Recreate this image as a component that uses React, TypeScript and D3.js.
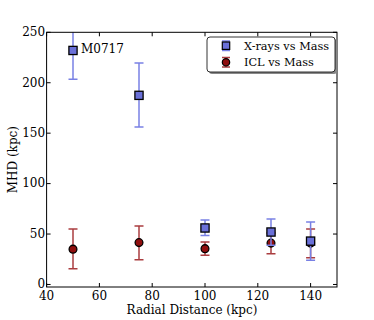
import React from "react";
import * as d3 from "d3";

const radius = [50, 75, 100, 125, 140];
const xrayMHD = [232, 187.5, 56, 52, 43];
const xrayLow = [203.5, 156, 48.5, 39, 24];
const xrayHigh = [260, 219.5, 64, 65, 62];
const iclMHD = [35, 41.5, 35.5, 41, 41];
const iclLow = [15.6, 24.5, 29, 30.5, 26.5];
const iclHigh = [55, 58, 42, 51, 55];
const xTicks = [40, 60, 80, 100, 120, 140];
const yTicks = [0, 50, 100, 150, 200, 250];
const legendLabels = ["X-rays vs Mass", "ICL vs Mass"];

const W = 374, H = 320;
const L = 46.6, R = 337, T = 32.3, B = 287;
const FONT = "DejaVu Serif";

export default function App() {
  const x = d3.scaleLinear().domain([40, 150]).range([L, R]);
  const y = d3.scaleLinear().domain([-2.5, 250]).range([B, T]);
  const blueBar = "#7880e4";
  const blueFill = "#6a70d8";
  const redBar = "#aa3c3f";
  const redFill = "#900e0e";
  const cap = 4.5;
  const sq = 8.2;
  const cr = 3.9;
  return (
    <svg width={W} height={H} style={{ position: "absolute", left: 0, top: 0 }}>
      <rect width={W} height={H} fill="#fff" />
      <defs>
        <clipPath id="plot">
          <rect x={L} y={T} width={R - L} height={B - T} />
        </clipPath>
      </defs>
      <g clipPath="url(#plot)">
        {radius.map((r, i) => (
          <g key={"r" + i}>
            <line x1={x(r)} x2={x(r)} y1={y(iclLow[i])} y2={y(iclHigh[i])} stroke={redBar} strokeWidth={1.5} />
            <line x1={x(r) - cap} x2={x(r) + cap} y1={y(iclLow[i])} y2={y(iclLow[i])} stroke={redBar} strokeWidth={1.5} />
            <line x1={x(r) - cap} x2={x(r) + cap} y1={y(iclHigh[i])} y2={y(iclHigh[i])} stroke={redBar} strokeWidth={1.5} />
            <circle cx={x(r)} cy={y(iclMHD[i])} r={cr} fill={redFill} stroke="#000" strokeWidth={1.3} />
          </g>
        ))}
        {radius.map((r, i) => (
          <g key={"b" + i}>
            <line x1={x(r)} x2={x(r)} y1={y(xrayLow[i])} y2={y(xrayHigh[i])} stroke={blueBar} strokeWidth={1.5} />
            <line x1={x(r) - cap} x2={x(r) + cap} y1={y(xrayLow[i])} y2={y(xrayLow[i])} stroke={blueBar} strokeWidth={1.5} />
            <line x1={x(r) - cap} x2={x(r) + cap} y1={y(xrayHigh[i])} y2={y(xrayHigh[i])} stroke={blueBar} strokeWidth={1.5} />
            <rect x={x(r) - sq / 2} y={y(xrayMHD[i]) - sq / 2} width={sq} height={sq} fill={blueFill} stroke="#000" strokeWidth={1.3} />
          </g>
        ))}
      </g>
      <rect x={L} y={T} width={R - L} height={B - T} fill="none" stroke="#000" strokeWidth={1} />
      {xTicks.map((t) => (
        <g key={"xt" + t}>
          <line x1={x(t)} x2={x(t)} y1={B} y2={B - 4} stroke="#000" />
          <line x1={x(t)} x2={x(t)} y1={T} y2={T + 4} stroke="#000" />
          <text x={x(t)} y={300} textAnchor="middle" fontFamily={FONT} fontSize={12}>{t}</text>
        </g>
      ))}
      {yTicks.map((t) => (
        <g key={"yt" + t}>
          <line x1={L} x2={L + 4} y1={y(t)} y2={y(t)} stroke="#000" />
          <line x1={R} x2={R - 4} y1={y(t)} y2={y(t)} stroke="#000" />
          <text x={L - 1.5} y={y(t) + 3.8} textAnchor="end" fontFamily={FONT} fontSize={12}>{t}</text>
        </g>
      ))}
      <text x={192} y={314} textAnchor="middle" fontFamily={FONT} fontSize={12}>Radial Distance (kpc)</text>
      <text transform={`translate(16.5,${(T + B) / 2}) rotate(-90)`} textAnchor="middle" fontFamily={FONT} fontSize={12}>MHD (kpc)</text>
      <text x={81} y={53} fontFamily={FONT} fontSize={12}>M0717</text>
      <g>
        <rect x={209} y={39} width={128} height={35} rx={3} fill="#888" />
        <rect x={207} y={37} width={128} height={35} rx={3} fill="#fff" stroke="#000" strokeWidth={0.8} />
        <line x1={226} x2={226} y1={41} y2={50.5} stroke={blueBar} strokeWidth={1.5} />
        <line x1={222} x2={230} y1={41} y2={41} stroke={blueBar} strokeWidth={1.5} />
        <line x1={222} x2={230} y1={50.5} y2={50.5} stroke={blueBar} strokeWidth={1.5} />
        <rect x={222.3} y={42} width={7.4} height={7.4} fill={blueFill} stroke="#000" strokeWidth={1.2} />
        <text x={244} y={49.8} fontFamily={FONT} fontSize={11.3}>{legendLabels[0]}</text>
        <line x1={226} x2={226} y1={57.5} y2={67} stroke={redBar} strokeWidth={1.5} />
        <line x1={222} x2={230} y1={57.5} y2={57.5} stroke={redBar} strokeWidth={1.5} />
        <line x1={222} x2={230} y1={67} y2={67} stroke={redBar} strokeWidth={1.5} />
        <circle cx={226} cy={62.3} r={3.7} fill={redFill} stroke="#000" strokeWidth={1.2} />
        <text x={244} y={66.3} fontFamily={FONT} fontSize={11.3}>{legendLabels[1]}</text>
      </g>
    </svg>
  );
}
